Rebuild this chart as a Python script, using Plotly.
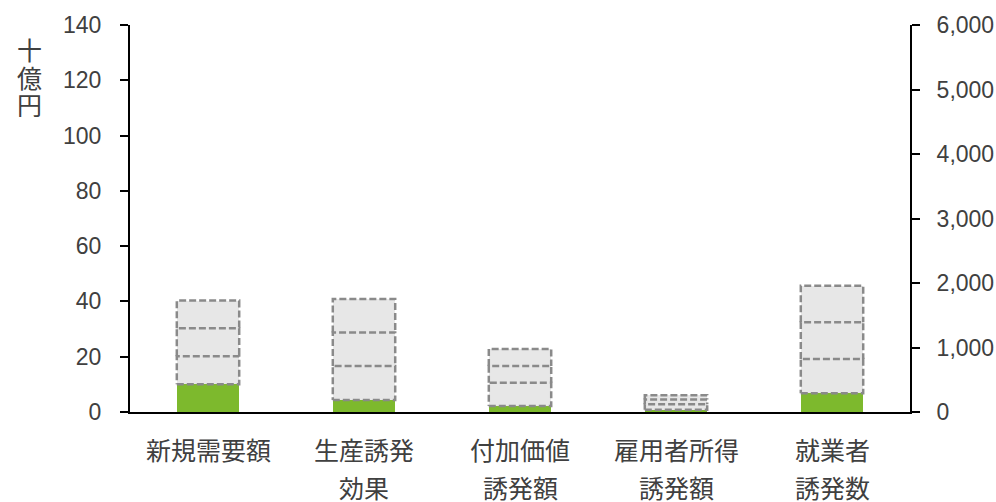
import plotly.graph_objects as go

# Categories (two-line labels)
categories = [["新規需要額"], ["生産誘発", "効果"], ["付加価値", "誘発額"], ["雇用者所得", "誘発額"], ["就業者", "誘発数"]]

# Stacked segments, bottom to top (十億円) for the first four categories
seg_green = [10.0, 4.3, 2.2, 0.8]
seg_gray1 = [10.2, 12.3, 8.4, 2.0]
seg_gray2 = [10.1, 12.2, 6.0, 1.7]
seg_gray3 = [10.0, 12.1, 6.2, 1.6]

# Employment inducement (persons), right axis
emp_green = [290]
emp_gray1 = [532]
emp_gray2 = [569]
emp_gray3 = [567]

left_ticks = [0, 20, 40, 60, 80, 100, 120, 140]
right_ticks = [0, 1000, 2000, 3000, 4000, 5000, 6000]

GREEN = "#7db92d"
FILL = "#e7e7e7"
DASH = "#8a8a8a"
TEXT = "#404040"
BAR_W = 0.4

fig = go.Figure()

def add_stack(xs, segs, axis):
    # green base + three gray segments
    colors = [GREEN, FILL, FILL, FILL]
    for seg, col in zip(segs, colors):
        fig.add_trace(go.Bar(x=xs, y=seg, width=BAR_W, marker=dict(color=col, line=dict(width=0)),
                             yaxis=axis, showlegend=False, hoverinfo="skip"))
    # dashed outlines around each gray segment; shared edges drawn once
    ox, oy = [], []
    for i, x in enumerate(xs):
        base = segs[0][i]
        for k, seg in enumerate(segs[1:]):
            top = base + seg[i]
            l, r = x - BAR_W / 2, x + BAR_W / 2
            if k == 0:
                ox += [l, r, r, l, l, None]
                oy += [base, base, top, top, base, None]
            else:
                ox += [l, l, r, r, None]
                oy += [base, top, top, base, None]
            base = top
    fig.add_trace(go.Scatter(x=ox, y=oy, mode="lines", yaxis=axis,
                             line=dict(color=DASH, width=2.5, dash="7px,3px"),
                             showlegend=False, hoverinfo="skip"))

add_stack([0, 1, 2, 3], [seg_green, seg_gray1, seg_gray2, seg_gray3], "y")
add_stack([4], [emp_green, emp_gray1, emp_gray2, emp_gray3], "y2")

tickfont = dict(family="Liberation Sans, Arial, sans-serif", size=23, color=TEXT)

fig.update_layout(
    width=996, height=502,
    margin=dict(l=130, r=86, t=25, b=90, autoexpand=False),
    paper_bgcolor="white", plot_bgcolor="white",
    barmode="stack", bargap=0,
    xaxis=dict(range=[-0.5, 4.5], showticklabels=False, showgrid=False, zeroline=False,
               showline=True, linecolor="black", linewidth=2, ticks="", automargin=False),
    yaxis=dict(range=[0, 140], tickvals=left_ticks, showgrid=False, zeroline=False,
               showline=True, linecolor="black", linewidth=2, automargin=False,
               ticks="outside", ticklen=8, tickwidth=2, tickcolor="black",
               tickfont=tickfont, ticklabelstandoff=14),
    yaxis2=dict(range=[0, 6000], tickvals=right_ticks, tickformat=",", overlaying="y", side="right",
                showgrid=False, zeroline=False, showline=True, linecolor="black", linewidth=2,
                automargin=False,
                ticks="outside", ticklen=8, tickwidth=2, tickcolor="black",
                tickfont=tickfont, ticklabelstandoff=12),
)

cjk = dict(family="Noto Sans CJK JP, sans-serif", size=25, color=TEXT)

# Category labels, one annotation per line
for i, lines in enumerate(categories):
    for j, line in enumerate(lines):
        fig.add_annotation(x=i, xref="x", y=0, yref="paper", yanchor="middle",
                           yshift=-37 - 38 * j, text=line, showarrow=False, font=cjk)

# Vertical unit label
for k, ch in enumerate("十億円"):
    fig.add_annotation(x=0, xref="paper", xanchor="center", xshift=-101, y=1, yref="paper",
                       yanchor="middle", yshift=-24 - 27.5 * k, text=ch, showarrow=False,
                       font=dict(family="Noto Sans CJK JP, sans-serif", size=25, color=TEXT))

fig.write_html("out.html")
